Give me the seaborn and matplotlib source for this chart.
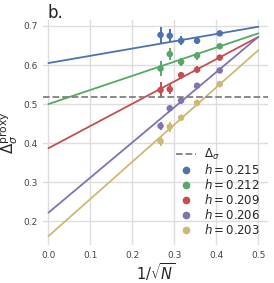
import numpy as np
import pandas as pd
import matplotlib
matplotlib.use('Agg')
import matplotlib.pyplot as plt
from matplotlib.lines import Line2D
import seaborn as sns

# data
inv_sqrt_n = [0.267, 0.289, 0.316, 0.354, 0.408]
h_values = ['0.215', '0.212', '0.209', '0.206', '0.203']
delta_215 = [0.677, 0.675, 0.662, 0.662, 0.681]
delta_212 = [0.591, 0.628, 0.608, 0.624, 0.648]
delta_209 = [0.536, 0.538, 0.574, 0.588, 0.619]
delta_206 = [0.444, 0.489, 0.509, 0.547, 0.586]
delta_203 = [0.405, 0.442, 0.465, 0.503, 0.551]
err_215 = [0.020, 0.016, 0.012, 0.006, 0.005]
err_212 = [0.020, 0.015, 0.010, 0.010, 0.005]
err_209 = [0.020, 0.013, 0.009, 0.009, 0.005]
err_206 = [0.011, 0.008, 0.008, 0.006, 0.005]
err_203 = [0.013, 0.013, 0.006, 0.005, 0.005]
fit_intercept = [0.605, 0.500, 0.387, 0.222, 0.162]
fit_slope = [0.186, 0.362, 0.570, 0.900, 0.952]
delta_sigma = 0.518

deltas = [delta_215, delta_212, delta_209, delta_206, delta_203]
errs = [err_215, err_212, err_209, err_206, err_203]

sns.set_style("whitegrid")
deep = sns.color_palette("deep")
colors = [deep[0], deep[2], deep[3], deep[4], deep[8]]

rows = []
for h, d, e in zip(h_values, deltas, errs):
    for x, y, s in zip(inv_sqrt_n, d, e):
        rows.append({'x': x, 'delta': y, 'err': s, 'h': h})
df = pd.DataFrame(rows)

fit_x = [0.0, 0.5]
fit_rows = []
for h, a, b in zip(h_values, fit_intercept, fit_slope):
    for x in fit_x:
        fit_rows.append({'x': x, 'delta': a + b * x, 'h': h})
df_fit = pd.DataFrame(fit_rows)

fig = plt.figure(figsize=(2.74, 2.83), dpi=100)
ax = fig.add_axes([0.157, 0.134, 0.821, 0.795])

sns.lineplot(data=df_fit, x='x', y='delta', hue='h', palette=colors,
             hue_order=h_values, lw=1.3, legend=False, ax=ax)
for h, c in zip(h_values, colors):
    sub = df[df['h'] == h]
    ax.errorbar(sub['x'], sub['delta'], yerr=sub['err'], fmt='none',
                ecolor=c, elinewidth=1.4, capsize=0)
sns.scatterplot(data=df, x='x', y='delta', hue='h', palette=colors,
                hue_order=h_values, s=22, edgecolor='none', legend=False,
                ax=ax, zorder=3)
ax.axhline(delta_sigma, color='gray', ls='--', lw=1.3)

ax.set_xlim(-0.013, 0.523)
ax.set_ylim(0.139, 0.715)
ax.set_xticks([0.0, 0.1, 0.2, 0.3, 0.4, 0.5])
ax.set_yticks([0.2, 0.3, 0.4, 0.5, 0.6, 0.7])
ax.tick_params(labelsize=6.5, labelcolor='#444444', length=0, pad=4)
for sp in ax.spines.values():
    sp.set_visible(False)
ax.grid(True, color='#dddddd', lw=1.0)

ax.set_xlabel(r'$1/\sqrt{N}$', fontsize=10.5, labelpad=1)
ax.set_ylabel(r'$\Delta_\sigma^{\mathrm{proxy}}$', fontsize=11, labelpad=2)

handles = [Line2D([], [], color='gray', ls='--', lw=1.3)]
labels = [r'$\Delta_\sigma$']
for h, c in zip(h_values, colors):
    handles.append(Line2D([], [], color=c, marker='o', ls='none', markersize=4.5))
    labels.append(r'$h = $' + h)
ax.legend(handles, labels, loc='lower right', frameon=False, fontsize=8.5,
          handlelength=1.7, handletextpad=0.6, labelspacing=0.08,
          borderaxespad=0.3, bbox_to_anchor=(1.0, 0.0))

fig.text(0.175, 0.955, 'b.', fontsize=12, ha='left', va='center')

fig.savefig('out.png', dpi=100)
